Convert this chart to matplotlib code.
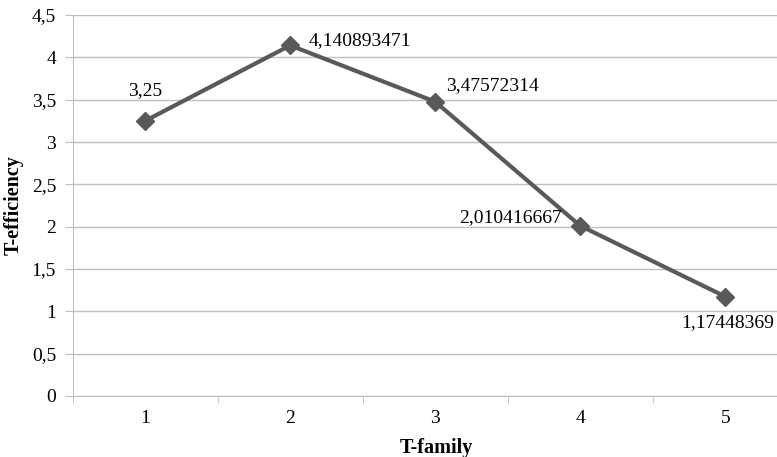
import matplotlib
matplotlib.use("Agg")
import matplotlib.pyplot as plt
from matplotlib.ticker import FixedLocator, FuncFormatter

categories = ["1", "2", "3", "4", "5"]
values = [3.25, 4.140893471, 3.47572314, 2.010416667, 1.17448369]
labels = ["3,25", "4,140893471", "3,47572314", "2,010416667", "1,17448369"]
yticks = [0, 0.5, 1, 1.5, 2, 2.5, 3, 3.5, 4, 4.5]

plt.rcParams['font.family'] = ['Liberation Serif', 'DejaVu Serif']

W, H = 777, 457
fig = plt.figure(figsize=(W/100, H/100), dpi=100)
left, right, top, bottom = 72.7, 797.7, 15, 396
ax = fig.add_axes([left/W, 1-bottom/H, (right-left)/W, (bottom-top)/H])

x = list(range(len(categories)))
ax.plot(x, values, color='#595959', lw=3, marker='D', ms=9, mfc='#595959', mec='#595959', zorder=3)

ax.set_xlim(-0.5, len(categories)-0.5)
ax.set_ylim(0, 4.5)
ax.set_yticks(yticks)
ax.yaxis.set_major_formatter(FuncFormatter(lambda v, p: ("%g" % v).replace('.', ',')))
ax.set_xticks(x)
ax.set_xticklabels(categories)
ax.xaxis.set_minor_locator(FixedLocator([i+0.5 for i in range(-1, len(categories))]))
ax.tick_params(axis='x', which='major', length=0, pad=10, labelsize=14)
ax.tick_params(axis='x', which='minor', length=5, color='#bfbfbf', direction='out')
ax.tick_params(axis='y', length=6, color='#bfbfbf', labelsize=14, pad=6)

ax.grid(axis='y', color='#bfbfbf', lw=1)
ax.set_axisbelow(True)
for s in ['top', 'right']:
    ax.spines[s].set_visible(False)
ax.spines['left'].set_color('#bfbfbf')
ax.spines['bottom'].set_color('#bfbfbf')

offs = [(0, 22, 'center', 'center'), (13, 3.6, 'left', 'center'), (8, 11.5, 'left', 'center'),
        (-13, 6, 'right', 'center'), (2, -19, 'center', 'center')]
for i, (v, lab) in enumerate(zip(values, labels)):
    dx, dy, ha, va = offs[i]
    ax.annotate(lab, (i, v), xytext=(dx, dy), textcoords='offset points', ha=ha, va=va, fontsize=14)

fig.text(14/W, 1-205/H, "T-efficiency", rotation=90, ha='center', va='center', fontsize=14.5, fontweight='bold')
fig.text(436/W, 1-448/H, "T-family", ha='center', va='center', fontsize=14.5, fontweight='bold')

fig.savefig("out.png", dpi=100)
